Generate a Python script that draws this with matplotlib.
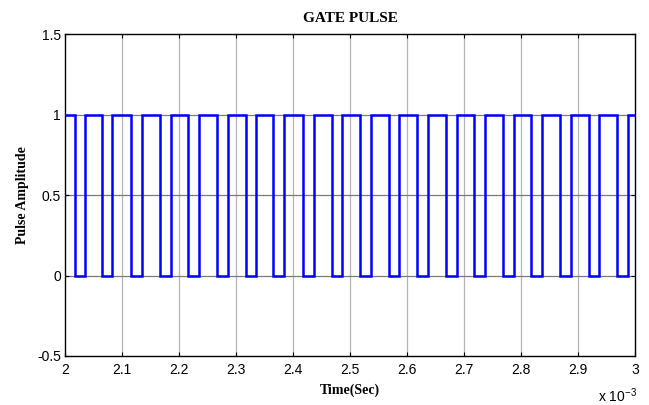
import numpy as np
import matplotlib
matplotlib.use("Agg")
import matplotlib.pyplot as plt

# Gate pulse edges (milliseconds)
fall_ms = [2.0176, 2.0650, 2.1160, 2.1670, 2.2162, 2.2671, 2.3181, 2.3656,
           2.4183, 2.4675, 2.5167, 2.5677, 2.6169, 2.6678, 2.7170, 2.7680,
           2.8172, 2.8682, 2.9192, 2.9684]
rise_ms = [2.0351, 2.0826, 2.1353, 2.1863, 2.2355, 2.2865, 2.3357, 2.3849,
           2.4359, 2.4851, 2.5360, 2.5852, 2.6362, 2.6872, 2.7364, 2.7873,
           2.8366, 2.8875, 2.9367, 2.9877]
t_start_ms = 2.0
t_end_ms = 3.0
high_level = 1.0
low_level = 0.0

x_ticks_ms = [2.0, 2.1, 2.2, 2.3, 2.4, 2.5, 2.6, 2.7, 2.8, 2.9, 3.0]
x_tick_labels = ["2", "2.1", "2.2", "2.3", "2.4", "2.5", "2.6", "2.7", "2.8", "2.9", "3"]
y_ticks = [-0.5, 0, 0.5, 1, 1.5]
y_tick_labels = ["-0.5", "0", "0.5", "1", "1.5"]

# Build the step waveform from the edge lists
t_pts = [t_start_ms]
y_pts = [high_level]
for f, r in zip(fall_ms, rise_ms):
    t_pts += [f, f, r, r]
    y_pts += [high_level, low_level, low_level, high_level]
t_pts.append(t_end_ms)
y_pts.append(high_level)
t_sec = np.array(t_pts) * 1e-3

fig = plt.figure(figsize=(6.49, 4.05), dpi=100)
ax = fig.add_axes([0.1002, 0.121, 0.8783, 0.795])

for xv in x_ticks_ms[1:-1]:
    ax.axvline(xv * 1e-3, color="#b4b4b4", lw=0.9, zorder=1)
for yv in y_ticks[1:-1]:
    ax.axhline(yv, color="#7a7a7a", lw=0.9, zorder=1)

ax.plot(t_sec, y_pts, color="#0000ff", lw=1.8, zorder=3, solid_joinstyle="miter")

ax.set_xlim(t_start_ms * 1e-3, t_end_ms * 1e-3)
ax.set_ylim(-0.5, 1.5)
ax.set_xticks([v * 1e-3 for v in x_ticks_ms])
ax.set_xticklabels(x_tick_labels)
ax.set_yticks(y_ticks)
ax.set_yticklabels(y_tick_labels)

for lab in ax.get_xticklabels() + ax.get_yticklabels():
    lab.set_fontfamily("Liberation Sans")
    lab.set_fontsize(10)

ax.tick_params(direction="in", length=3, width=0.8, top=True, right=True)
ax.tick_params(axis="x", pad=5)
ax.tick_params(axis="y", pad=3)
for s in ax.spines.values():
    s.set_linewidth(1.0)
    s.set_color("black")

ax.set_title("GATE PULSE", fontfamily="Liberation Serif", fontweight="bold",
             fontsize=11, pad=9)
ax.set_xlabel("Time(Sec)", fontfamily="Liberation Serif", fontweight="bold",
              fontsize=10, labelpad=5)
ax.set_ylabel("Pulse Amplitude", fontfamily="Liberation Serif", fontweight="bold",
              fontsize=10, labelpad=6)
fig.text(0.922, 0.008, r"x 10$^{\mathregular{-3}}$", fontfamily="Liberation Sans",
         fontsize=10, ha="left", va="baseline")

fig.savefig("out.png", dpi=100)
